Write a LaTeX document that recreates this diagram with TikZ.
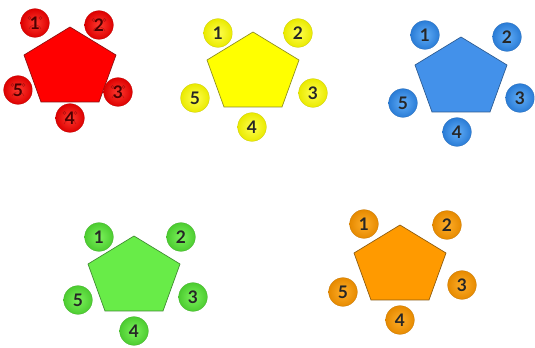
\documentclass[tikz,border=0pt]{standalone}
\usepackage{fontspec}
\setmainfont{Lato}
\definecolor{redP}{HTML}{FF0000}
\definecolor{redB}{HTML}{8A1010}
\definecolor{redI}{HTML}{FF3A30}
\definecolor{redO}{HTML}{DD0000}
\definecolor{redT}{HTML}{4A0000}
\definecolor{yelP}{HTML}{FFFF00}
\definecolor{yelB}{HTML}{8C8C20}
\definecolor{yelI}{HTML}{FFFF50}
\definecolor{yelO}{HTML}{EAEA00}
\definecolor{bluP}{HTML}{4391EA}
\definecolor{bluB}{HTML}{2C5A90}
\definecolor{bluI}{HTML}{62AEF8}
\definecolor{bluO}{HTML}{2A7CD6}
\definecolor{grnP}{HTML}{68EC48}
\definecolor{grnB}{HTML}{3E8A30}
\definecolor{grnI}{HTML}{7CF25C}
\definecolor{grnO}{HTML}{4CCC30}
\definecolor{orgP}{HTML}{FF9A00}
\definecolor{orgB}{HTML}{8A5A10}
\definecolor{orgI}{HTML}{FFAE2A}
\definecolor{orgO}{HTML}{E68A00}
\tikzset{
  penta/.style={fill=#1P, draw=#1B, line width=0.5pt, line join=miter},
  dot/.style={circle, minimum size=21.5pt, inner sep=0pt,
    inner color=#1I, outer color=#1O, draw=#1O!85!black, line width=0.2pt,
    font=\fontsize{13}{13}\selectfont\bfseries, text=black!85},
  eye/.style={draw=redT, draw opacity=0.35, line width=0.35pt},
}
\newcommand{\pentagonAt}[4]{% name, x, y, colour
  \coordinate (#1t) at (#2,#3);
  \draw[penta=#4] (#1t) -- ++(46,28) coordinate (#1r)
    -- ++(-17,47) coordinate (#1br) -- ++(-58,0) coordinate (#1bl)
    -- ++(-17,-47) coordinate (#1l) -- cycle;
}
\begin{document}
\begin{tikzpicture}[x=0.75pt,y=-0.75pt]
\useasboundingbox (0,0) rectangle (535,348);
\fill[white] (0,0) rectangle (535,348);

% red
\pentagonAt{R}{70}{27}{red}
\foreach \n/\x/\y in {1/35/23, 2/99/25, 3/118/92, 4/70/118, 5/18/90}{
  \node[dot=red, text=redT] (R\n) at (\x,\y) {\n};
  \draw[eye] ([shift={(-5.5,-5)}]R\n.center) circle (1.5);
  \draw[eye] ([shift={(5.5,-5)}]R\n.center) circle (1.5);
  \draw[eye] ([shift={(-6,6)}]R\n.center) arc[start angle=200, end angle=340, radius=6.4];
}

% yellow
\pentagonAt{Y}{253}{32}{yel}
\foreach \n/\x/\y in {1/218/33, 2/298/33, 3/313/93, 4/252/127, 5/195/98}{
  \node[dot=yel] (Y\n) at (\x,\y) {\n};
}

% blue
\pentagonAt{B}{461}{37}{blu}
\foreach \n/\x/\y in {1/425/35, 2/507/37, 3/520/98, 4/457/132, 5/403/103}{
  \node[dot=blu] (B\n) at (\x,\y) {\n};
}

% green
\pentagonAt{G}{134}{236}{grn}
\foreach \n/\x/\y in {1/99/237, 2/181/237, 3/193/297, 4/134/331, 5/78/300}{
  \node[dot=grn] (G\n) at (\x,\y) {\n};
}

% orange
\pentagonAt{O}{400}{225}{org}
\foreach \n/\x/\y in {1/364/224, 2/447/225, 3/462/285, 4/400/320, 5/343/292}{
  \node[dot=org] (O\n) at (\x,\y) {\n};
}
\end{tikzpicture}
\end{document}
